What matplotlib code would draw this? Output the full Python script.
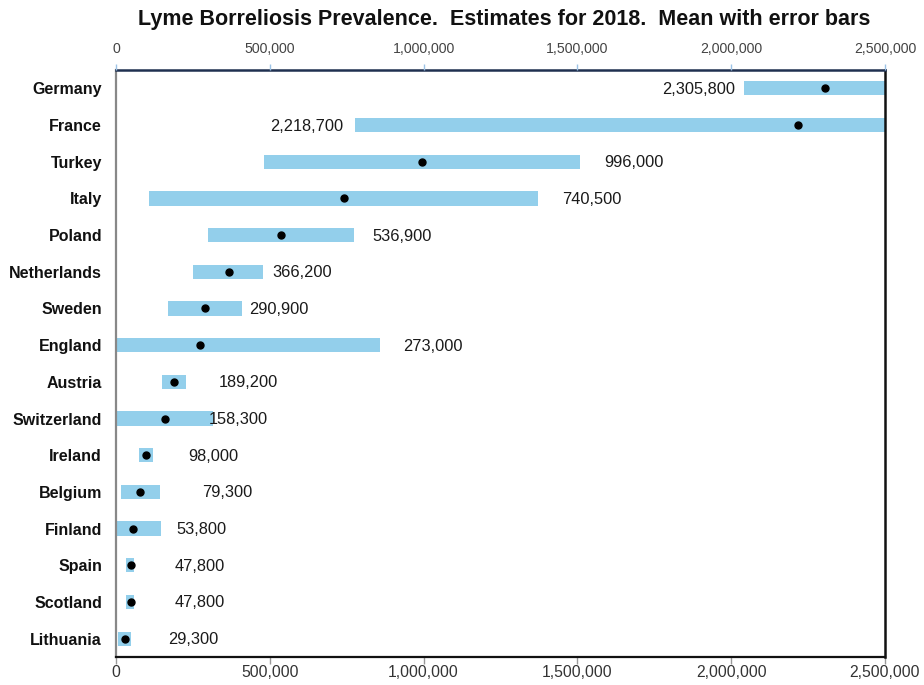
import matplotlib
matplotlib.use("Agg")
import matplotlib.pyplot as plt
from matplotlib import font_manager

# Lyme borreliosis prevalence estimates, 2018
countries = ["Germany", "France", "Turkey", "Italy", "Poland", "Netherlands",
             "Sweden", "England", "Austria", "Switzerland", "Ireland",
             "Belgium", "Finland", "Spain", "Scotland", "Lithuania"]
mean = [2305800, 2218700, 996000, 740500, 536900, 366200, 290900, 273000,
        189200, 158300, 98000, 79300, 53800, 47800, 47800, 29300]
low = [2041000, 778000, 480000, 107000, 300000, 251000, 170000, 0,
       149500, 0, 73700, 15200, 0, 32500, 32500, 6500]
high = [2600000, 2600000, 1508000, 1372000, 772700, 478000, 408500, 858300,
        227600, 314300, 119200, 142000, 146300, 59600, 59600, 48800]
xticks = [0, 500000, 1000000, 1500000, 2000000, 2500000]
xmax = 2500000

# label placement: horizontal offset (pixels) from the bar end, and side
label_dx = [-9, -12, 24, 24, 19, 9, 7, 23, 33, -4, 36, 42, 15, 40, 40, 37]
label_left = [True, True] + [False] * 14

names = {f.name for f in font_manager.fontManager.ttflist}
narrow = "Liberation Sans Narrow" if "Liberation Sans Narrow" in names else None
plt.rcParams["font.family"] = ["Liberation Sans", "DejaVu Sans"]

fig = plt.figure(figsize=(9.24, 6.85), dpi=100)
ax = fig.add_axes([116 / 924, 1 - 657 / 685, 769 / 924, 587 / 685])

bar_color = "#93CFEB"
ypos = list(range(len(countries)))
ax.barh(ypos, [h - l for h, l in zip(high, low)], left=low, height=0.39,
        color=bar_color, edgecolor="none", zorder=2)
ax.plot(mean, ypos, "o", color="black", markersize=5, zorder=3)

for i, (m, lo, hi) in enumerate(zip(mean, low, high)):
    txt = f"{m:,}"
    if label_left[i]:
        ax.annotate(txt, (lo, i), xytext=(label_dx[i], -1), textcoords="offset pixels",
                    ha="right", va="center", fontsize=11.8, color="#1a1a1a",
                    annotation_clip=False)
    else:
        ax.annotate(txt, (min(hi, xmax), i), xytext=(label_dx[i], -1),
                    textcoords="offset pixels", ha="left", va="center",
                    fontsize=11.8, color="#1a1a1a", annotation_clip=False)

ax.set_xlim(0, xmax)
ax.set_ylim(len(countries) - 0.5, -0.5)
ax.set_yticks(ypos)
ax.set_yticklabels(countries, fontsize=11.5, fontweight="bold", color="#111111")
ax.tick_params(axis="y", length=0, pad=10)

ax.set_xticks(xticks)
ax.set_xticklabels([f"{t:,}" for t in xticks], fontsize=11.3, color="#333333")
ax.tick_params(axis="x", direction="out", length=5, width=1, color="#999999", pad=1)

for side, c, w in [("left", "#888888", 1.6), ("bottom", "#111111", 1.6),
                   ("right", "#111111", 1.8), ("top", "#1F3050", 1.8)]:
    ax.spines[side].set_color(c)
    ax.spines[side].set_linewidth(w)

top = ax.twiny()
top.set_xlim(ax.get_xlim())
top.set_xticks(xticks)
if narrow:
    top_kw = dict(fontsize=11.8, family=[narrow, "DejaVu Sans"])
else:
    top_kw = dict(fontsize=10.2)
top.set_xticklabels([f"{t:,}" for t in xticks], color="#444444", **top_kw)
top.tick_params(axis="x", direction="out", length=4, width=1, color="#9DC3E6", pad=6)
for s in top.spines.values():
    s.set_visible(False)

fig.text(504 / 924, 1 - 19 / 685,
         "Lyme Borreliosis Prevalence.  Estimates for 2018.  Mean with error bars",
         ha="center", va="center", fontsize=15.5, fontweight="bold", color="#111111")

fig.savefig("out.png", dpi=100, facecolor="white")
